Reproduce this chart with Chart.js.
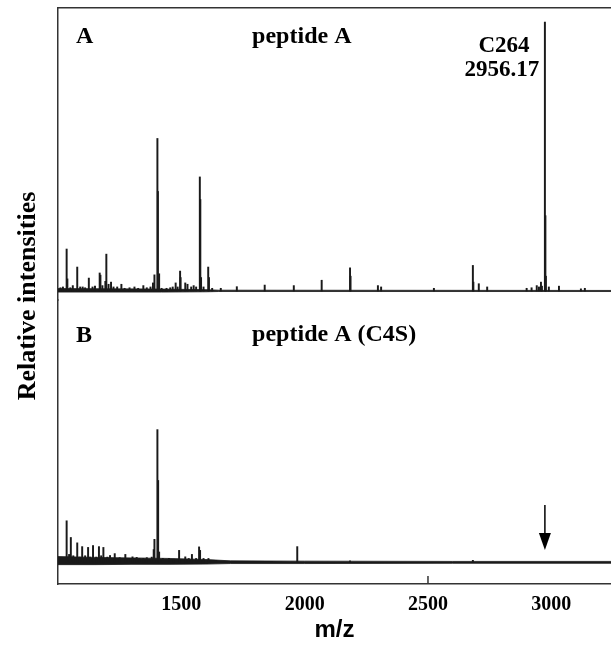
<!DOCTYPE html>
<html><head><meta charset="utf-8">
<script src="https://cdn.jsdelivr.net/npm/chart.js@4.4.1/dist/chart.umd.min.js"></script>
<style>html,body{margin:0;padding:0;background:#fff;overflow:hidden}canvas{display:block}</style>
</head><body>
<canvas id="c" width="611" height="647"></canvas>
<script>
// ---- axis ----
const xTickValues = [1500, 2000, 2500, 3000];
const xTickMarks = [2500];
const xMin = 1000, xMax = 3242;

// ---- spectrum A : peptide A (m/z, relative intensity) ----
const peakMzA = [1010,1020,1035,1038,1050,1060,1078,1090,1100,1110,1125,1140,1150,1169,1172,1180,1192,1196,1205,1215,1225,1240,1257,1270,1290,1310,1325,1346,1360,1375,1385,1391,1403,1405,1410,1420,1440,1455,1465,1477,1485,1495,1497,1516,1525,1540,1550,1560,1575,1577,1580,1590,1609,1612,1625,1660,1725,1838,1956,2069,2184,2186,2297,2310,2524,2682,2684,2706,2740,2900,2920,2941,2950,2958,2962,2974,2976,2978,2990,3031,3120,3136];
const peakIntA = [1.2,1.5,15.6,4.5,1.2,2.0,8.9,1.5,1.5,1.2,4.8,1.5,1.8,6.7,5.9,2.0,3.6,13.7,2.5,3.3,1.5,1.5,2.5,1.0,1.2,1.5,1.0,2.0,1.2,1.5,3.0,6.0,56.7,37.0,6.4,1.0,1.0,1.2,1.5,3.0,1.5,7.4,5.0,3.0,2.5,1.5,2.0,1.5,42.4,34.0,5.0,1.5,8.9,5.0,1.0,1.0,1.6,2.2,2.0,4.0,8.6,5.5,2.0,1.5,1.0,9.5,3.3,2.7,1.5,1.0,1.2,2.0,1.5,3.3,1.8,100,28,5.5,1.5,1.8,0.8,1.0];
const noiseMzA = [1000, 1420, 1600, 1650, 3242];
const noiseUpA = [0.9, 0.7, 0.5, 0.3, 0.2];
const noiseLoA = [-0.4, -0.4, -0.3, -0.2, -0.2];

// ---- spectrum B : peptide A (C4S) ----
const peakMzB = [1035,1045,1052,1062,1078,1088,1098,1110,1122,1130,1142,1155,1166,1175,1184,1200,1211,1230,1250,1273,1285,1302,1319,1330,1346,1360,1380,1388,1391,1403,1406,1410,1425,1450,1470,1491,1516,1530,1543,1560,1572,1576,1590,1610,1970,2184,2682];
const peakIntB = [15.5,3.0,9.3,2.5,7.3,2.0,5.9,2.5,5.6,2.0,6.3,2.0,5.9,2.5,5.6,2.0,2.6,3.3,1.8,3.0,1.5,2.1,1.9,1.5,1.5,1.8,2.0,4.8,8.6,49.4,30.5,3.9,1.5,1.5,1.2,4.5,2.1,1.5,3.0,1.5,5.8,4.5,1.5,1.5,5.9,0.6,0.8];
const noiseMzB = [1000, 1150, 1300, 1450, 1600, 1700, 2000, 2600, 3242];
const noiseUpB = [2.2, 1.9, 1.7, 1.5, 1.1, 0.6, 0.5, 0.4, 0.4];
const noiseLoB = [-0.8, -0.8, -0.7, -0.7, -0.6, -0.4, -0.4, -0.3, -0.3];

const pts = (xs, ys) => xs.map((v, i) => ({x: v, y: ys[i]}));
const ink = '#1a1a1a';
const frame = '#333';

function barSet(xs, ys, axis) {
  return {type: 'bar', data: pts(xs, ys), xAxisID: 'x', yAxisID: axis,
    backgroundColor: ink, borderWidth: 0, barThickness: 1.3, grouped: false};
}
function bandSet(xs, ys, axis, fill) {
  return {type: 'line', data: pts(xs, ys), xAxisID: 'x', yAxisID: axis,
    borderColor: ink, borderWidth: 0.8, pointRadius: 0, tension: 0,
    backgroundColor: ink, fill: fill};
}

const annot = {
  id: 'annot',
  afterDraw(chart) {
    const {ctx} = chart;
    const x = chart.scales.x, yA = chart.scales.yA, yB = chart.scales.yB;
    ctx.save();
    ctx.fillStyle = '#000';
    ctx.textBaseline = 'alphabetic';
    ctx.font = 'bold 24px "Liberation Serif"';
    ctx.textAlign = 'left';
    ctx.fillText('A', x.getPixelForValue(1073), yA.getPixelForValue(92.2));
    ctx.fillText('peptide A', x.getPixelForValue(1787), yA.getPixelForValue(92.2));
    ctx.fillText('B', x.getPixelForValue(1073), yB.getPixelForValue(82.1));
    ctx.fillText('peptide A (C4S)', x.getPixelForValue(1787), yB.getPixelForValue(82.3));
    ctx.font = 'bold 23px "Liberation Serif"';
    ctx.textAlign = 'center';
    ctx.fillText('C264', x.getPixelForValue(2808), yA.getPixelForValue(89.0));
    ctx.fillText('2956.17', x.getPixelForValue(2800), yA.getPixelForValue(79.9));
    // arrow marking the missing peak in B
    const ax = x.getPixelForValue(2974);
    ctx.strokeStyle = '#000'; ctx.lineWidth = 1.5;
    ctx.beginPath();
    ctx.moveTo(ax, yB.getPixelForValue(21.4));
    ctx.lineTo(ax, yB.getPixelForValue(10));
    ctx.stroke();
    ctx.beginPath();
    ctx.moveTo(ax - 6, yB.getPixelForValue(11));
    ctx.lineTo(ax + 6, yB.getPixelForValue(11));
    ctx.lineTo(ax, yB.getPixelForValue(4.6));
    ctx.closePath(); ctx.fill();
    // inward tick marks on the m/z axis
    ctx.strokeStyle = frame; ctx.lineWidth = 1.5;
    xTickMarks.forEach(v => {
      const px = x.getPixelForValue(v);
      ctx.beginPath(); ctx.moveTo(px, x.top - 8); ctx.lineTo(px, x.top); ctx.stroke();
    });
    ctx.restore();
  }
};

const hidden = {display: false};
new Chart(document.getElementById('c'), {
  type: 'bar',
  data: {datasets: [
    barSet(peakMzA, peakIntA, 'yA'),
    bandSet(noiseMzA, noiseUpA, 'yA', '+1'),
    bandSet(noiseMzA, noiseLoA, 'yA', false),
    barSet(peakMzB, peakIntB, 'yB'),
    bandSet(noiseMzB, noiseUpB, 'yB', '+1'),
    bandSet(noiseMzB, noiseLoB, 'yB', false)
  ]},
  options: {
    responsive: false, animation: false,
    layout: {padding: {left: 0, right: 0, top: 8, bottom: 0}},
    plugins: {legend: hidden, tooltip: {enabled: false}},
    scales: {
      x: {type: 'linear', position: 'bottom', min: xMin, max: xMax, offset: false,
        grid: {display: false, drawTicks: false, offset: false},
        border: {display: true, color: frame, width: 1.5},
        afterBuildTicks: s => { s.ticks = xTickValues.map(v => ({value: v})); },
        afterFit: s => { s.height = 63; },
        ticks: {padding: 9, autoSkip: false, maxRotation: 0, color: '#000',
          font: {family: '"Liberation Serif"', weight: 'bold', size: 20},
          callback: v => String(v)},
        title: {display: true, text: 'm/z', color: '#000', padding: {top: 0, bottom: 2},
          font: {family: '"Liberation Sans"', weight: 'bold', size: 24}}
      },
      xTop: {type: 'linear', position: 'top', min: xMin, max: xMax, offset: false,
        grid: {display: false, drawTicks: false}, ticks: hidden,
        border: {display: true, color: frame, width: 1.5},
        afterFit: s => { s.height = 0; }
      },
      yTitle: {type: 'linear', position: 'left', weight: 10, min: 0, max: 1,
        grid: {display: false, drawTicks: false}, ticks: hidden, border: hidden,
        afterFit: s => { s.width = 58; },
        title: {display: true, text: 'Relative intensities', color: '#000', padding: {top: 13, bottom: 0},
          font: {family: '"Liberation Serif"', weight: 'bold', size: 26}}
      },
      yA: {type: 'linear', position: 'left', stack: 'spectra', stackWeight: 292, weight: 1,
        min: -3.35, max: 105.2,
        grid: {display: false, drawTicks: false}, ticks: hidden,
        border: {display: true, color: frame, width: 1.5},
        afterFit: s => { s.width = 0; }
      },
      yB: {type: 'linear', position: 'left', stack: 'spectra', stackWeight: 284, weight: 0,
        min: -8.0, max: 97.6,
        grid: {display: false, drawTicks: false}, ticks: hidden,
        border: {display: true, color: frame, width: 1.5},
        afterFit: s => { s.width = 0; }
      }
    }
  },
  plugins: [annot]
});
</script>
</body></html>
